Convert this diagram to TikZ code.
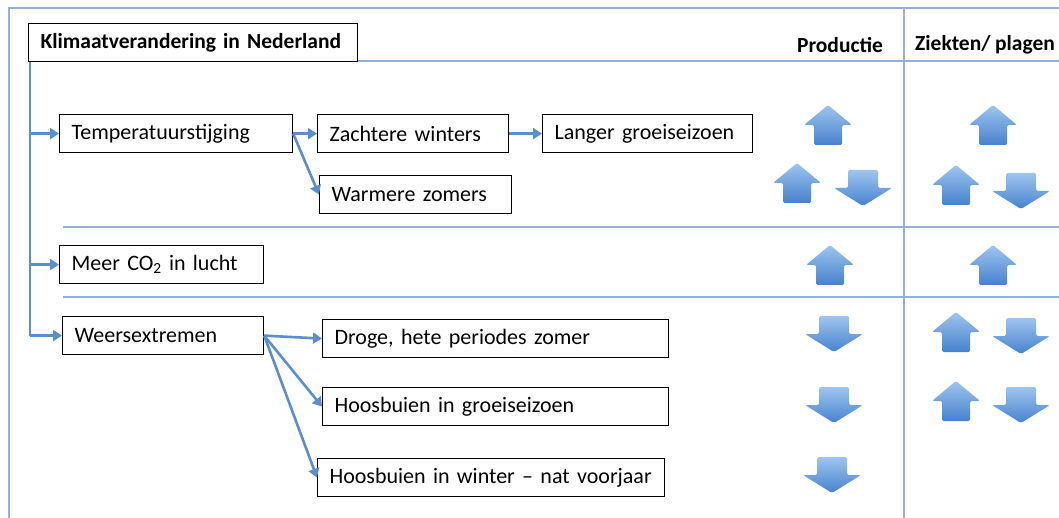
\documentclass[tikz,border=0pt]{standalone}
\usepackage{fontspec}
\setmainfont{Carlito}
\usetikzlibrary{arrows.meta}

\definecolor{connblue}{HTML}{5B8ECF}
\definecolor{frameblue}{HTML}{93B1D9}
\definecolor{arrlight}{HTML}{9EC5F0}
\definecolor{arrdark}{HTML}{4682CD}

\newcommand{\boxfont}{\fontsize{22}{26}\selectfont\spaceskip 4.6pt\relax}
\newcommand{\headfont}{\bfseries\fontsize{21.5}{26}\selectfont\spaceskip 4.6pt\relax}

\tikzset{
    box/.style={draw, line width=1.2pt, anchor=north west, minimum height=38pt,
        inner xsep=12pt, align=left, font=\boxfont},
    head/.style={font=\headfont},
    conn/.style={connblue, line width=2.6pt, -{Triangle[width=11pt,length=9pt]}},
    frame/.style={frameblue, line width=1.4pt},
    arrfill/.style={top color=arrlight, bottom color=arrdark, rounded corners=1.5pt},
    uparr/.pic={
        \shade[arrfill] (-24,0) -- (0,-20) -- (24,0) -- (14,0) -- (14,20) -- (-14,20) -- (-14,0) -- cycle;
    },
    downarr/.pic={
        \shade[arrfill] (-15,-18) -- (15,-18) -- (15,0) -- (29,0) -- (0,18) -- (-29,0) -- (-15,0) -- cycle;
    }
}

\begin{document}
\begin{tikzpicture}[x=1pt, y=-1pt]
    \useasboundingbox (0,0) rectangle (1059,518);

    \draw[frame] (9,518) -- (9,8) -- (1059,8);
    \draw[frame] (904,8) -- (904,518);
    \draw[frame] (229,61) -- (1059,61);
    \draw[frame] (63,227) -- (1059,227);
    \draw[frame] (63,297) -- (1059,297);

    \node (title)   [box, head, text width=305pt, fill=white] at (28,23)  {Klimaatverandering in Nederland};
    \node (temp)    [box, text width=209pt] at (59,114)  {Temperatuurstijging};
    \node (zacht)   [box, text width=167pt] at (317,114) {Zachtere winters};
    \node (langer)  [box, text width=186pt] at (542,114) {Langer groeiseizoen};
    \node (warm)    [box, text width=168pt] at (319,175) {Warmere zomers};
    \node (co2)     [box, text width=180pt] at (59,245)  {Meer CO\textsubscript{2} in lucht};
    \node (weer)    [box, text width=177pt] at (62,316)  {Weersextremen};
    \node (droge)   [box, text width=322pt] at (322,319) {Droge, hete periodes zomer};
    \node (hgroei)  [box, text width=322pt] at (322,387) {Hoosbuien in groeiseizoen};
    \node (hwinter) [box, text width=323pt] at (317,458) {Hoosbuien in winter -- nat voorjaar};

    \node (prod)    [head] at (840,45) {Productie};
    \node (ziek)    [head] at (985,45) {Ziekten/ plagen};

    \coordinate (trunk) at (30,62);
    \draw[connblue, line width=2.6pt] (trunk) -- (trunk |- weer.west);
    \draw[conn] (trunk |- temp.west) -- (temp.west);
    \draw[conn] (trunk |- co2.west)  -- (co2.west);
    \draw[conn] (trunk |- weer.west) -- (weer.west);

    \draw[conn] (temp.east)  -- (zacht.west);
    \draw[conn] (temp.east)  -- (warm.west);
    \draw[conn] (zacht.east) -- (langer.west);

    \draw[conn] (weer.east) -- (droge.west);
    \draw[conn] (weer.east) -- (hgroei.west);
    \draw[conn] (weer.east) -- (hwinter.west);

    \pic at (828,125)  {uparr};
    \pic at (797,183)  {uparr};
    \pic at (863,188)  {downarr};
    \pic at (830,265)  {uparr};
    \pic at (834,334)  {downarr};
    \pic at (834,405)  {downarr};
    \pic at (832,475)  {downarr};

    \pic at (993,125)  {uparr};
    \pic at (956,185)  {uparr};
    \pic at (1021,191) {downarr};
    \pic at (993,265)  {uparr};
    \pic at (956,332)  {uparr};
    \pic at (1021,336) {downarr};
    \pic at (956,401)  {uparr};
    \pic at (1021,405) {downarr};
\end{tikzpicture}
\end{document}
